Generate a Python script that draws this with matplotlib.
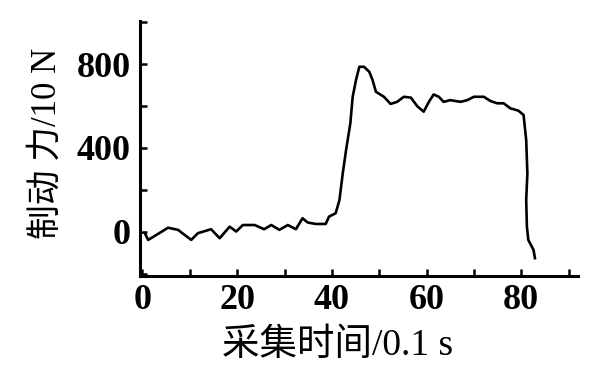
import matplotlib
matplotlib.use("Agg")
import matplotlib.pyplot as plt
from matplotlib.ticker import MultipleLocator

plt.rcParams['font.family'] = ['Liberation Serif', 'Noto Sans CJK SC']

# 采集时间 (0.1 s)
t = [0.5, 1.2, 5.4, 7.5, 10.3, 11.7, 14.5, 16.3, 18.4, 19.8, 21.2, 23.7,
     25.7, 27.2, 28.9, 30.7, 32.4, 33.8, 34.9, 36.6, 38.7, 39.4, 40.8,
     41.6, 42.3, 43.0, 43.9, 44.4, 45.1, 45.8, 46.8, 47.9, 48.6, 49.3,
     51.0, 52.4, 53.8, 55.2, 56.7, 58.0, 59.4, 60.5, 61.5, 62.6, 63.6,
     65.0, 67.2, 68.6, 70.0, 72.1, 73.5, 74.9, 76.3, 77.7, 79.4, 80.5,
     81.05, 81.3, 81.05, 81.2, 81.5, 82.6, 82.9]
# 制动力 (10 N)
force = [-6, -38, 20, 10, -38, -6, 13, -30, 25, 2, 33, 33,
         13, 33, 10, 33, 13, 65, 45, 38, 38, 73, 89,
         152, 279, 390, 517, 644, 724, 787, 787, 763, 724, 668,
         644, 610, 620, 644, 640, 600, 573, 620, 655, 644, 620,
         628, 620, 628, 644, 644, 624, 613, 613, 589, 578, 557,
         438, 279, 152, 25, -38, -86, -125]

x_ticks = [0, 20, 40, 60, 80]
y_ticks = [0, 400, 800]

fig = plt.figure(figsize=(6.04, 3.69), dpi=100)
ax = fig.add_axes([0.232, 0.252, 0.725, 0.691])

ax.plot(t, force, color='black', lw=1.9)

ax.set_xlim(-0.5, 92)
ax.set_ylim(-210, 1005)
ax.xaxis.set_minor_locator(MultipleLocator(10))
ax.yaxis.set_minor_locator(MultipleLocator(200))

for s in ['top', 'right']:
    ax.spines[s].set_visible(False)
for s in ['left', 'bottom']:
    ax.spines[s].set_linewidth(2.2)

ax.tick_params(which='both', direction='in', length=5, width=1.8)
ax.tick_params(axis='y', pad=7)
ax.tick_params(axis='x', pad=6)

ax.set_xticks(x_ticks, labels=[str(v) for v in x_ticks],
              fontsize=26, fontweight='bold')
ax.set_yticks(y_ticks, labels=[str(v) for v in y_ticks],
              fontsize=26, fontweight='bold')

ax.set_xlabel('采集时间/0.1 s', fontsize=27)
ax.xaxis.set_label_coords(0.452, -0.205)
ax.set_ylabel('制动 力/10 N', fontsize=25)
ax.yaxis.set_label_coords(-0.175, 0.52)

fig.savefig('out.png', dpi=100)
